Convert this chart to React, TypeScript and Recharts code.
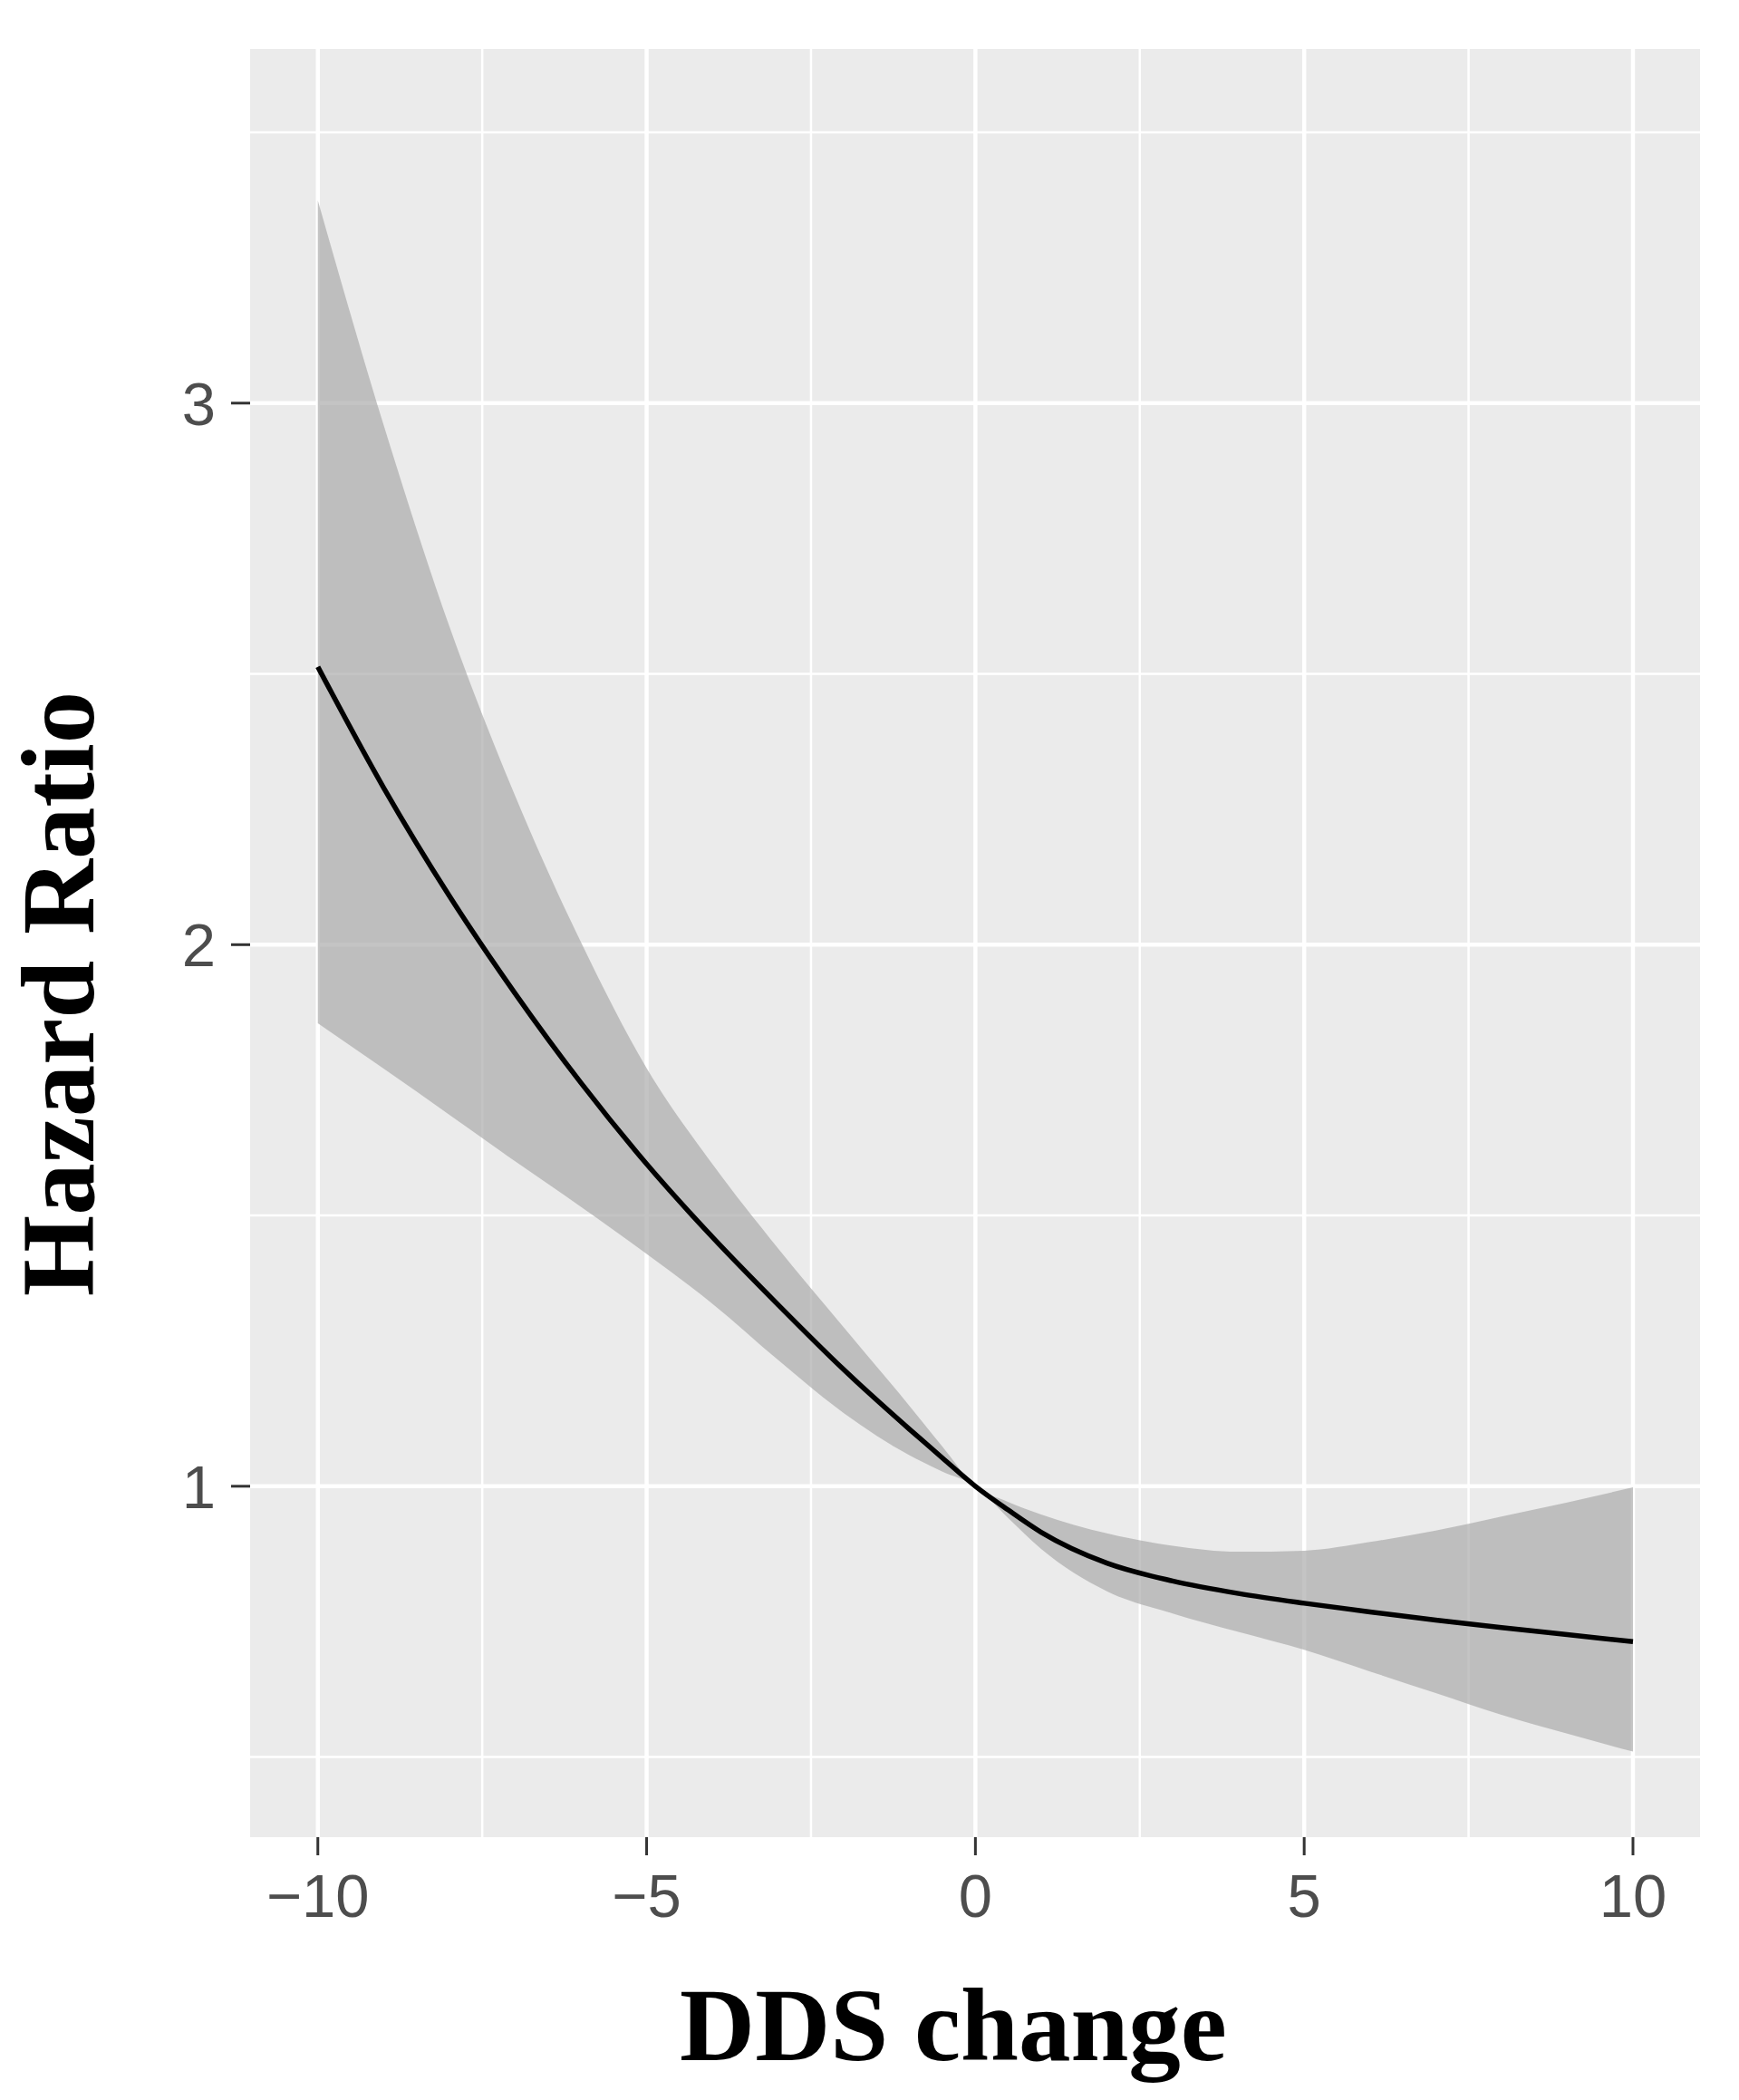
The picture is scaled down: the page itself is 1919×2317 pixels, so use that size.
import { ComposedChart, Area, Line, XAxis, YAxis, CartesianGrid, Label } from 'recharts';

// DDS change (x) and hazard ratio curve with its confidence band
const dds = [-10, -9, -8, -7, -6, -5, -4, -3, -2, -1, -0.5, 0, 0.5, 1, 2, 3, 4, 5, 6, 7, 8, 9, 10];
const hrFit = [2.513, 2.29, 2.09, 1.91, 1.745, 1.595, 1.46, 1.335, 1.215, 1.105, 1.052, 1.0, 0.956, 0.915, 0.858, 0.825, 0.802, 0.784, 0.768, 0.753, 0.739, 0.726, 0.713];
const hrLower = [1.855, 1.771, 1.686, 1.6, 1.516, 1.429, 1.337, 1.233, 1.135, 1.057, 1.027, 1.0, 0.941, 0.884, 0.806, 0.765, 0.731, 0.698, 0.658, 0.618, 0.578, 0.543, 0.51];
const hrUpper = [3.374, 2.96, 2.588, 2.275, 2.005, 1.772, 1.595, 1.439, 1.293, 1.148, 1.073, 1.0, 0.971, 0.948, 0.913, 0.89, 0.879, 0.881, 0.897, 0.918, 0.944, 0.97, 0.998];

const xTicks = [-10, -5, 0, 5, 10];
const xMinor = [-7.5, -2.5, 2.5, 7.5];
const yTicks = [1, 2, 3];
const yMinor = [0.5, 1.5, 2.5, 3.5];

const rows = dds.map((x, i) => ({
  x,
  fit: hrFit[i],
  band: [hrLower[i], hrUpper[i]],
}));

const tickFont = {
  fontFamily: '"Liberation Sans", Arial, sans-serif',
  fontSize: 67,
  fill: '#4D4D4D',
};

const titleFont = '"Liberation Serif", "Times New Roman", serif';

function XTitle(props: any) {
  const vb = props.viewBox || { x: 276, y: 2027, width: 1600, height: 290 };
  return (
    <text
      x={vb.x + vb.width / 2 - 24}
      y={vb.y + 246}
      textAnchor="middle"
      fontFamily={titleFont}
      fontWeight="bold"
      fontSize={115}
      fill="#000"
    >
      DDS change
    </text>
  );
}

function YTitle(props: any) {
  const vb = props.viewBox || { x: 0, y: 54, width: 276, height: 1973 };
  const cx = vb.x + 103;
  const cy = vb.y + vb.height / 2 + 56;
  return (
    <text
      x={cx}
      y={cy}
      transform={`rotate(-90, ${cx}, ${cy})`}
      textAnchor="middle"
      fontFamily={titleFont}
      fontWeight="bold"
      fontSize={115}
      fill="#000"
    >
      Hazard Ratio
    </text>
  );
}

export default function App() {
  return (
    <div style={{ position: 'absolute', left: 0, top: 0, width: 1919, height: 2317, background: '#fff' }}>
      <ComposedChart
        width={1919}
        height={2317}
        data={rows}
        margin={{ top: 54, right: 43, bottom: 0, left: 0 }}
      >
        <CartesianGrid
          fill="#EBEBEB"
          stroke="#FFFFFF"
          strokeWidth={2.5}
          horizontalValues={yMinor}
          verticalValues={xMinor}
        />
        <CartesianGrid
          stroke="#FFFFFF"
          strokeWidth={4.5}
          horizontalValues={yTicks}
          verticalValues={xTicks}
        />
        <XAxis
          dataKey="x"
          type="number"
          domain={[-11.03, 11.02]}
          ticks={xTicks}
          allowDataOverflow
          height={290}
          axisLine={false}
          tickLine={{ stroke: '#333333', strokeWidth: 3 }}
          tickSize={20}
          tickMargin={20}
          tick={tickFont}
          tickFormatter={(v: number) => (v < 0 ? `\u2212${Math.abs(v)}` : `${v}`)}
        >
          <Label content={XTitle} />
        </XAxis>
        <YAxis
          type="number"
          domain={[0.352, 3.654]}
          ticks={yTicks}
          allowDataOverflow
          width={276}
          axisLine={false}
          tickLine={{ stroke: '#333333', strokeWidth: 3 }}
          tickSize={21}
          tickMargin={17}
          tick={tickFont}
        >
          <Label content={YTitle} />
        </YAxis>
        <Area
          dataKey="band"
          type="monotone"
          stroke="none"
          fill="#ABABAB"
          fillOpacity={0.7}
          isAnimationActive={false}
        />
        <Line
          dataKey="fit"
          type="monotone"
          stroke="#000000"
          strokeWidth={5.5}
          dot={false}
          activeDot={false}
          isAnimationActive={false}
        />
      </ComposedChart>
    </div>
  );
}
